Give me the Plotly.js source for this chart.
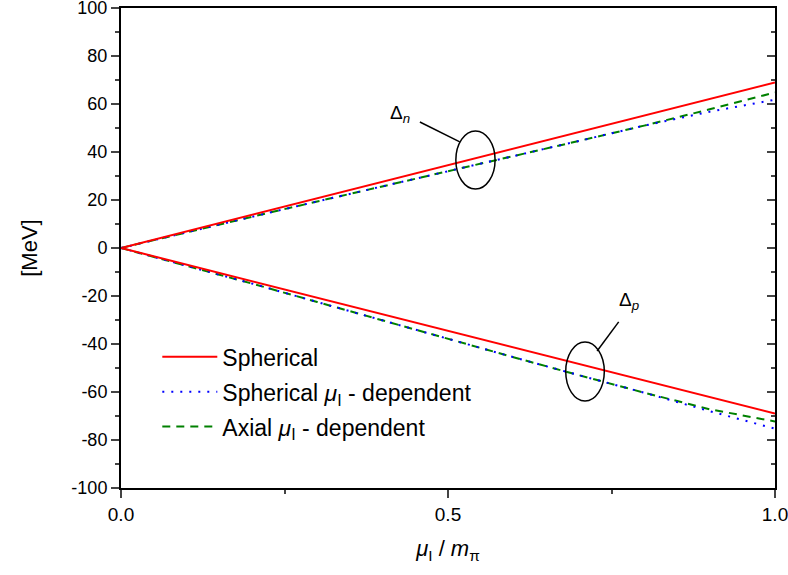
<!DOCTYPE html>
<html>
<head>
<meta charset="utf-8">
<script src="https://cdn.plot.ly/plotly-3.0.1.min.js"></script>
<style>html,body{margin:0;padding:0;background:#fff;}#chart{width:788px;height:575px;}</style>
</head>
<body>
<div id="chart"></div>
<script>
// x = mu_I / m_pi
const xs = [0, 0.1, 0.2, 0.3, 0.4, 0.5, 0.6, 0.7, 0.8, 0.9, 1.0];
// Delta_n (upper branch)
const sphN  = [0, 6.9, 13.8, 20.7, 27.6, 34.5, 41.4, 48.3, 55.2, 62.1, 69.0];
const sphIN = [0, 6.6, 13.0, 19.4, 25.6, 32.0, 38.3, 44.6, 51.0, 56.8, 61.8];
const axIN  = [0, 6.6, 13.0, 19.4, 25.6, 32.0, 38.3, 44.6, 51.0, 57.8, 64.8];
// Delta_p (lower branch)
const sphP  = [0, -6.9, -13.8, -20.7, -27.6, -34.5, -41.4, -48.3, -55.2, -62.1, -69.0];
const sphIP = [0, -7.3, -14.8, -22.5, -30.2, -38.0, -45.5, -53.0, -60.3, -68.0, -75.3];
const axIP  = [0, -7.3, -14.8, -22.5, -30.2, -38.0, -45.5, -53.0, -60.3, -67.2, -72.3];

const yTickVals = [-100, -80, -60, -40, -20, 0, 20, 40, 60, 80, 100];
const yTickText = ["-100", "-80", "-60", "-40", "-20", "0", "20", "40", "60", "80", "100"];
const xTickVals = [0, 0.5, 1.0];
const xTickText = ["0.0", "0.5", "1.0"];
const seriesNames = ["Spherical", "Spherical <i>μ</i><sub>I</sub> - dependent", "Axial <i>μ</i><sub>I</sub> - dependent"];

const RED = "#ff0000", BLUE = "#0000ff", GREEN = "#008000";
const FONT = "Liberation Sans, Arial, sans-serif";
const DOT = "2px,7px", DASH = "8px,6px";

const traces = [
  {x: xs, y: axIN, name: seriesNames[2], mode: "lines", line: {color: GREEN, width: 2, dash: DASH}, legendgroup: "c", legendrank: 3},
  {x: xs, y: axIP, yaxis: "y2", mode: "lines", line: {color: GREEN, width: 2, dash: DASH}, showlegend: false},
  {x: xs, y: sphIN, name: seriesNames[1], mode: "lines", line: {color: BLUE, width: 2, dash: DOT}, legendgroup: "b", legendrank: 2},
  {x: xs, y: sphIP, yaxis: "y2", mode: "lines", line: {color: BLUE, width: 2, dash: DOT}, showlegend: false},
  {x: xs, y: sphN, name: seriesNames[0], mode: "lines", line: {color: RED, width: 2}, legendgroup: "a", legendrank: 1},
  {x: xs, y: sphP, yaxis: "y2", mode: "lines", line: {color: RED, width: 2}, showlegend: false}
];

const layout = {
  width: 788, height: 575,
  margin: {l: 121, r: 13, t: 8, b: 87},
  paper_bgcolor: "#fff", plot_bgcolor: "#fff",
  font: {family: FONT, color: "#000", size: 16},
  showlegend: true,
  legend: {x: 0.0555, y: 0.318, xanchor: "left", yanchor: "top", bgcolor: "rgba(0,0,0,0)",
           font: {size: 23, family: FONT}, itemwidth: 55, tracegroupgap: 2, traceorder: "grouped"},
  xaxis: {range: [0, 1], tickvals: xTickVals, ticktext: xTickText, ticks: "outside", ticklen: 8, tickwidth: 2,
          showline: true, linewidth: 2, linecolor: "#000", mirror: true, showgrid: false, zeroline: false,
          tickfont: {size: 19}, ticklabeloverflow: "allow",
          minor: {dtick: 0.25, ticks: "outside", ticklen: 4, tickwidth: 2, showgrid: false},
          title: {text: "<i>μ</i><sub>I</sub> / <i>m</i><sub>π</sub>", font: {size: 22}, standoff: 17}},
  yaxis: {range: [-100.02, 100.02], tickvals: yTickVals, ticktext: yTickText, ticks: "outside", ticklen: 8, tickwidth: 2,
          showline: true, linewidth: 2, linecolor: "#000", showgrid: false, zeroline: false,
          tickfont: {size: 18}, ticklabeloverflow: "allow",
          minor: {dtick: 10, ticks: "outside", ticklen: 4, tickwidth: 2, showgrid: false},
          title: {text: "[MeV]", font: {size: 22}, standoff: 28}},
  yaxis2: {range: [-100.02, 100.02], overlaying: "y", side: "right", tickvals: yTickVals, showticklabels: false,
           ticks: "inside", ticklen: 8, tickwidth: 2, showline: true, linewidth: 2, linecolor: "#000",
           showgrid: false, zeroline: false,
           minor: {dtick: 10, ticks: "inside", ticklen: 4, tickwidth: 2, showgrid: false}},
  shapes: [
    {type: "circle", xref: "x", yref: "y", x0: 0.512, x1: 0.572, y0: 24.6, y1: 48.8, line: {color: "#000", width: 1.5}},
    {type: "circle", xref: "x", yref: "y", x0: 0.680, x1: 0.739, y0: -63.8, y1: -39.2, line: {color: "#000", width: 1.5}},
    {type: "line", xref: "x", yref: "y", x0: 0.457, y0: 52.5, x1: 0.518, y1: 44.2, line: {color: "#000", width: 1.5}},
    {type: "line", xref: "x", yref: "y", x0: 0.761, y0: -30.8, x1: 0.728, y1: -42.9, line: {color: "#000", width: 1.5}}
  ],
  annotations: [
    {xref: "x", yref: "y", x: 0.427, y: 56, text: "Δ<sub><i>n</i></sub>", showarrow: false, font: {size: 19}, xanchor: "center", yanchor: "middle"},
    {xref: "x", yref: "y", x: 0.777, y: -22, text: "Δ<sub><i>p</i></sub>", showarrow: false, font: {size: 19}, xanchor: "center", yanchor: "middle"}
  ]
};

Plotly.newPlot("chart", traces, layout, {displayModeBar: false, staticPlot: true});
</script>
</body>
</html>
